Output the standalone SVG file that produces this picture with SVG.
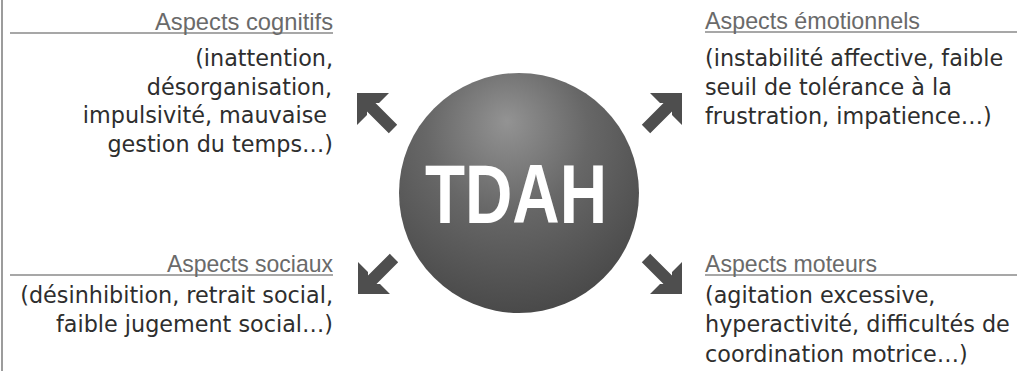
<svg xmlns="http://www.w3.org/2000/svg" width="1017" height="371" viewBox="0 0 1017 371">
  <defs>
    <radialGradient id="sphere" cx="0.45" cy="0.3" r="0.75" fx="0.45" fy="0.2">
      <stop offset="0" stop-color="#939393"/>
      <stop offset="0.45" stop-color="#676767"/>
      <stop offset="1" stop-color="#464646"/>
    </radialGradient>
    <path id="arrow" d="M0,0 L0,32 L-10,22 L-10,18.5 L-31.8,40.2 L-40.2,31.8 L-18.5,10 L-22,10 L-32,0 Z"/>
  </defs>
  <style>
    .head { font-family: "Liberation Sans Narrow", "Liberation Sans", Arial, sans-serif; font-size: 24px; fill: #6a6a6a; }
    .body { font-family: "DejaVu Sans", "Liberation Sans", sans-serif; font-size: 22.3px; fill: #2e2e2e; }
    .rule { stroke: #8a8a8a; stroke-width: 1.4; fill: none; }
    .arr { fill: #4e4e4e; }
  </style>
  <rect width="1017" height="371" fill="#ffffff"/>
  <line x1="2" y1="0" x2="2" y2="371" stroke="#9c9c9c" stroke-width="2"/>

  <g id="node-tdah">
    <circle cx="519" cy="193" r="120" fill="url(#sphere)"/>
    <text x="516" y="223" text-anchor="middle" font-family="'Liberation Sans Narrow', 'Liberation Sans', Arial, sans-serif" font-weight="bold" font-size="84" fill="#ffffff" textLength="182" lengthAdjust="spacingAndGlyphs">TDAH</text>
  </g>

  <g id="node-cognitifs">
    <line class="rule" x1="10" y1="33" x2="333" y2="33"/>
    <text class="head" x="333" y="30" text-anchor="end" textLength="178" lengthAdjust="spacingAndGlyphs">Aspects cognitifs</text>
    <text class="body" x="333" y="66" text-anchor="end">(inattention,</text>
    <text class="body" x="332" y="95" text-anchor="end">désorganisation,</text>
    <text class="body" x="327" y="123" text-anchor="end">impulsivité, mauvaise</text>
    <text class="body" x="333" y="152" text-anchor="end">gestion du temps…)</text>
  </g>

  <g id="node-emotionnels">
    <line class="rule" x1="705" y1="32" x2="1017" y2="32"/>
    <text class="head" x="705" y="29" textLength="215" lengthAdjust="spacingAndGlyphs">Aspects émotionnels</text>
    <text class="body" x="705" y="66">(instabilité affective, faible</text>
    <text class="body" x="705" y="95">seuil de tolérance à la</text>
    <text class="body" x="705" y="124">frustration, impatience…)</text>
  </g>

  <g id="node-sociaux">
    <line class="rule" x1="10" y1="275" x2="333" y2="275"/>
    <text class="head" x="333" y="272" text-anchor="end" textLength="166" lengthAdjust="spacingAndGlyphs">Aspects sociaux</text>
    <text class="body" x="333" y="303" text-anchor="end">(désinhibition, retrait social,</text>
    <text class="body" x="333" y="332" text-anchor="end">faible jugement social…)</text>
  </g>

  <g id="node-moteurs">
    <line class="rule" x1="705" y1="275" x2="1017" y2="275"/>
    <text class="head" x="705" y="272" textLength="172" lengthAdjust="spacingAndGlyphs">Aspects moteurs</text>
    <text class="body" x="705" y="303">(agitation excessive,</text>
    <text class="body" x="705" y="332">hyperactivité, difficultés de</text>
    <text class="body" x="705" y="362">coordination motrice…)</text>
  </g>

  <g id="connectors">
    <use class="arr" href="#arrow" transform="translate(682,93)"/>
    <use class="arr" href="#arrow" transform="translate(357,93) scale(-1,1)"/>
    <use class="arr" href="#arrow" transform="translate(358,294) scale(-1,-1)"/>
    <use class="arr" href="#arrow" transform="translate(682,294) scale(1,-1)"/>
  </g>
</svg>
